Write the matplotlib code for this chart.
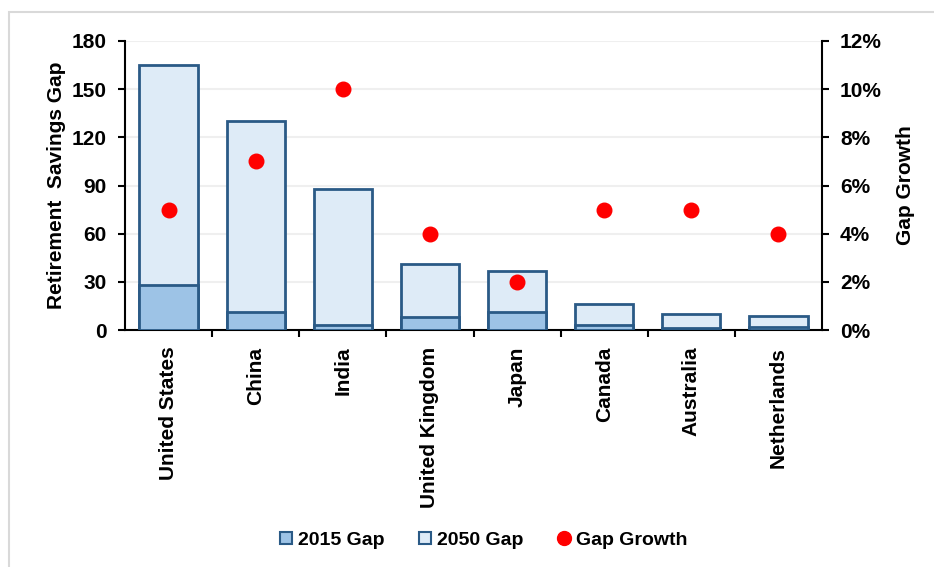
import matplotlib.pyplot as plt
from matplotlib.patches import Rectangle
from matplotlib.lines import Line2D
from matplotlib.ticker import FuncFormatter, MultipleLocator, FixedLocator
import numpy as np

plt.rcParams['font.family'] = ['Liberation Sans', 'DejaVu Sans']
plt.rcParams['font.weight'] = 'bold'

# --- data ---
countries = ['United States', 'China', 'India', 'United Kingdom',
             'Japan', 'Canada', 'Australia', 'Netherlands']
gap_2015 = [28, 11, 3, 8, 11, 3, 1, 2]
gap_2050 = [165, 130, 88, 41, 37, 16, 10, 8.5]
gap_growth = [5, 7, 10, 4, 2, 5, 5, 4]  # percent

C_2015 = '#9dc3e6'
C_2050 = '#deebf7'
C_EDGE = '#2a5a86'
FS = 15

fig = plt.figure(figsize=(9.34, 5.67), dpi=100)
ax = fig.add_axes([125 / 934, 1 - 330 / 567, (822 - 125) / 934, (330 - 41) / 567])

# light frame around the chart area
fig.patches.append(Rectangle((9 / 934, -0.1), 1.2, 1 - 12 / 567 + 0.1,
                             transform=fig.transFigure, fill=False,
                             edgecolor='#d9d9d9', linewidth=1.5, zorder=0))

x = np.arange(len(countries))
w = 0.67
ax.bar(x, gap_2050, width=w, color=C_2050, edgecolor=C_EDGE, linewidth=2, zorder=2)
ax.bar(x, gap_2015, width=w, color=C_2015, edgecolor=C_EDGE, linewidth=2, zorder=3)

ax.set_xlim(-0.5, len(countries) - 0.5)
ax.set_ylim(0, 180)
ax.yaxis.set_major_locator(MultipleLocator(30))
ax.grid(axis='y', color='#efefef', linewidth=1.5, zorder=0)
ax.set_axisbelow(True)

ax.set_xticks(x)
ax.set_xticklabels(countries, rotation=90, fontsize=FS, fontweight='bold')
ax.tick_params(axis='x', length=0, pad=12)
ax.xaxis.set_minor_locator(FixedLocator(np.arange(0.5, len(countries) - 0.5, 1)))
ax.tick_params(axis='x', which='minor', length=5, width=1.5, color='black')
ax.tick_params(axis='y', labelsize=FS, length=5, width=1.5, pad=8)
ax.set_ylabel('Retirement  Savings Gap', fontsize=FS, fontweight='bold', labelpad=4)

for s in ['top', 'right']:
    ax.spines[s].set_visible(False)
ax.spines['left'].set_linewidth(1.5)
ax.spines['bottom'].set_linewidth(1.5)

ax2 = ax.twinx()
ax2.scatter(x, gap_growth, s=110, color='#ff0000', zorder=5, clip_on=False)
ax2.set_ylim(0, 12)
ax2.yaxis.set_major_locator(MultipleLocator(2))
ax2.yaxis.set_major_formatter(FuncFormatter(lambda v, p: f'{v:.0f}%'))
ax2.tick_params(axis='y', labelsize=FS, length=5, width=1.5, pad=8)
ax2.set_ylabel('Gap Growth', fontsize=FS, fontweight='bold', rotation=90, labelpad=10)
for s in ['top', 'left', 'bottom']:
    ax2.spines[s].set_visible(False)
ax2.spines['right'].set_linewidth(1.5)

handles = [
    Line2D([], [], marker='s', linestyle='none', markersize=8,
           markerfacecolor=C_2015, markeredgecolor=C_EDGE, markeredgewidth=1.5),
    Line2D([], [], marker='s', linestyle='none', markersize=8,
           markerfacecolor=C_2050, markeredgecolor=C_EDGE, markeredgewidth=1.5),
    Line2D([], [], marker='o', linestyle='none', markersize=10,
           markerfacecolor='#ff0000', markeredgecolor='#ff0000'),
]
fig.legend(handles, ['2015 Gap', '2050 Gap', 'Gap Growth'],
           loc='center', bbox_to_anchor=(482 / 934, 1 - 540 / 567), ncol=3,
           frameon=False, fontsize=14, handletextpad=0.1, columnspacing=1.6,
           handlelength=1.0)

fig.savefig('out.png', dpi=100)
